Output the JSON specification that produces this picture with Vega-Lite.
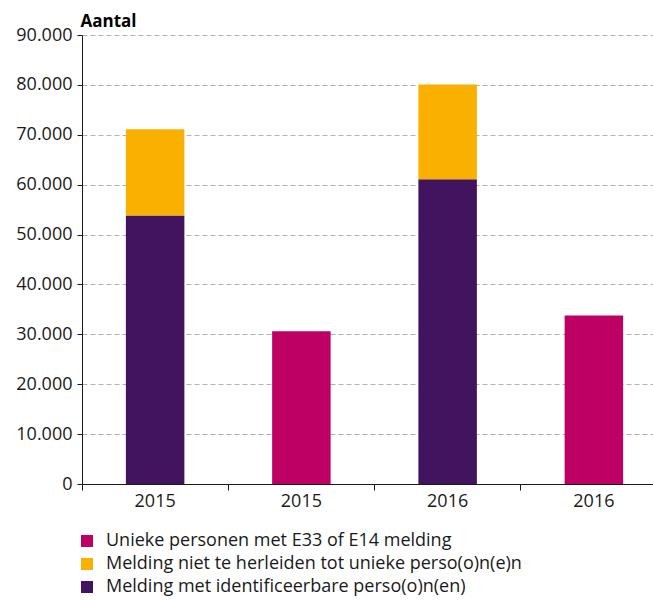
{
  "$schema": "https://vega.github.io/schema/vega-lite/v6.json",
  "autosize": "none",
  "width": 571,
  "height": 449,
  "padding": {"left": 82, "top": 35, "right": 0, "bottom": 116},
  "background": "white",
  "config": {
    "view": {"stroke": null},
    "font": "Open Sans"
  },
  "data": {
    "values": [
      {"slot": "a", "jaar": "2015", "serie": "Melding met identificeerbare perso(o)n(en)", "aantal": 53800},
      {"slot": "a", "jaar": "2015", "serie": "Melding niet te herleiden tot unieke perso(o)n(e)n", "aantal": 17300},
      {"slot": "b", "jaar": "2015", "serie": "Unieke personen met E33 of E14 melding", "aantal": 30600},
      {"slot": "c", "jaar": "2016", "serie": "Melding met identificeerbare perso(o)n(en)", "aantal": 61100},
      {"slot": "c", "jaar": "2016", "serie": "Melding niet te herleiden tot unieke perso(o)n(e)n", "aantal": 19000},
      {"slot": "d", "jaar": "2016", "serie": "Unieke personen met E33 of E14 melding", "aantal": 33800}
    ]
  },
  "mark": {"type": "bar", "width": {"band": 0.4}},
  "encoding": {
    "x": {
      "field": "slot",
      "type": "nominal",
      "scale": {"paddingInner": 0, "paddingOuter": 0, "range": [0, 585]},
      "axis": {
        "title": null,
        "labelAngle": 0,
        "labelExpr": "datum.value == 'a' || datum.value == 'b' ? '2015' : '2016'",
        "labelFontSize": 18,
        "labelColor": "#1a1a1a",
        "labelPadding": 2,
        "bandPosition": 0,
        "tickSize": 6,
        "tickColor": "#1a1a1a",
        "domainColor": "#1a1a1a",
        "grid": false
      }
    },
    "y": {
      "field": "aantal",
      "type": "quantitative",
      "aggregate": "sum",
      "scale": {"domain": [0, 90000]},
      "axis": {
        "values": [0, 10000, 20000, 30000, 40000, 50000, 60000, 70000, 80000, 90000],
        "labelExpr": "replace(format(datum.value, ','), ',', '.')",
        "labelFontSize": 18,
        "labelColor": "#1a1a1a",
        "labelPadding": 5,
        "tickSize": 5,
        "tickColor": "#1a1a1a",
        "domainColor": "#1a1a1a",
        "grid": true,
        "gridColor": "#b0b0b0",
        "gridDash": [5, 3],
        "gridWidth": 1,
        "title": "Aantal",
        "titleAngle": 0,
        "titleAlign": "left",
        "titleBaseline": "alphabetic",
        "titleX": -2,
        "titleY": -9,
        "titleFontSize": 17,
        "titleFontWeight": "bold",
        "titleColor": "#000000"
      }
    },
    "color": {
      "field": "serie",
      "type": "nominal",
      "scale": {
        "domain": [
          "Unieke personen met E33 of E14 melding",
          "Melding niet te herleiden tot unieke perso(o)n(e)n",
          "Melding met identificeerbare perso(o)n(en)"
        ],
        "range": ["#BE0064", "#F9B000", "#42145F"]
      },
      "legend": {
        "title": null,
        "orient": "none",
        "legendX": -4,
        "legendY": 497,
        "direction": "vertical",
        "symbolType": "square",
        "symbolSize": 144,
        "symbolStrokeWidth": 0,
        "labelFontSize": 18,
        "labelColor": "#1a1a1a",
        "labelOffset": 10,
        "rowPadding": 5,
        "labelLimit": 600
      }
    },
    "order": {"field": "serie", "sort": "ascending"}
  }
}
